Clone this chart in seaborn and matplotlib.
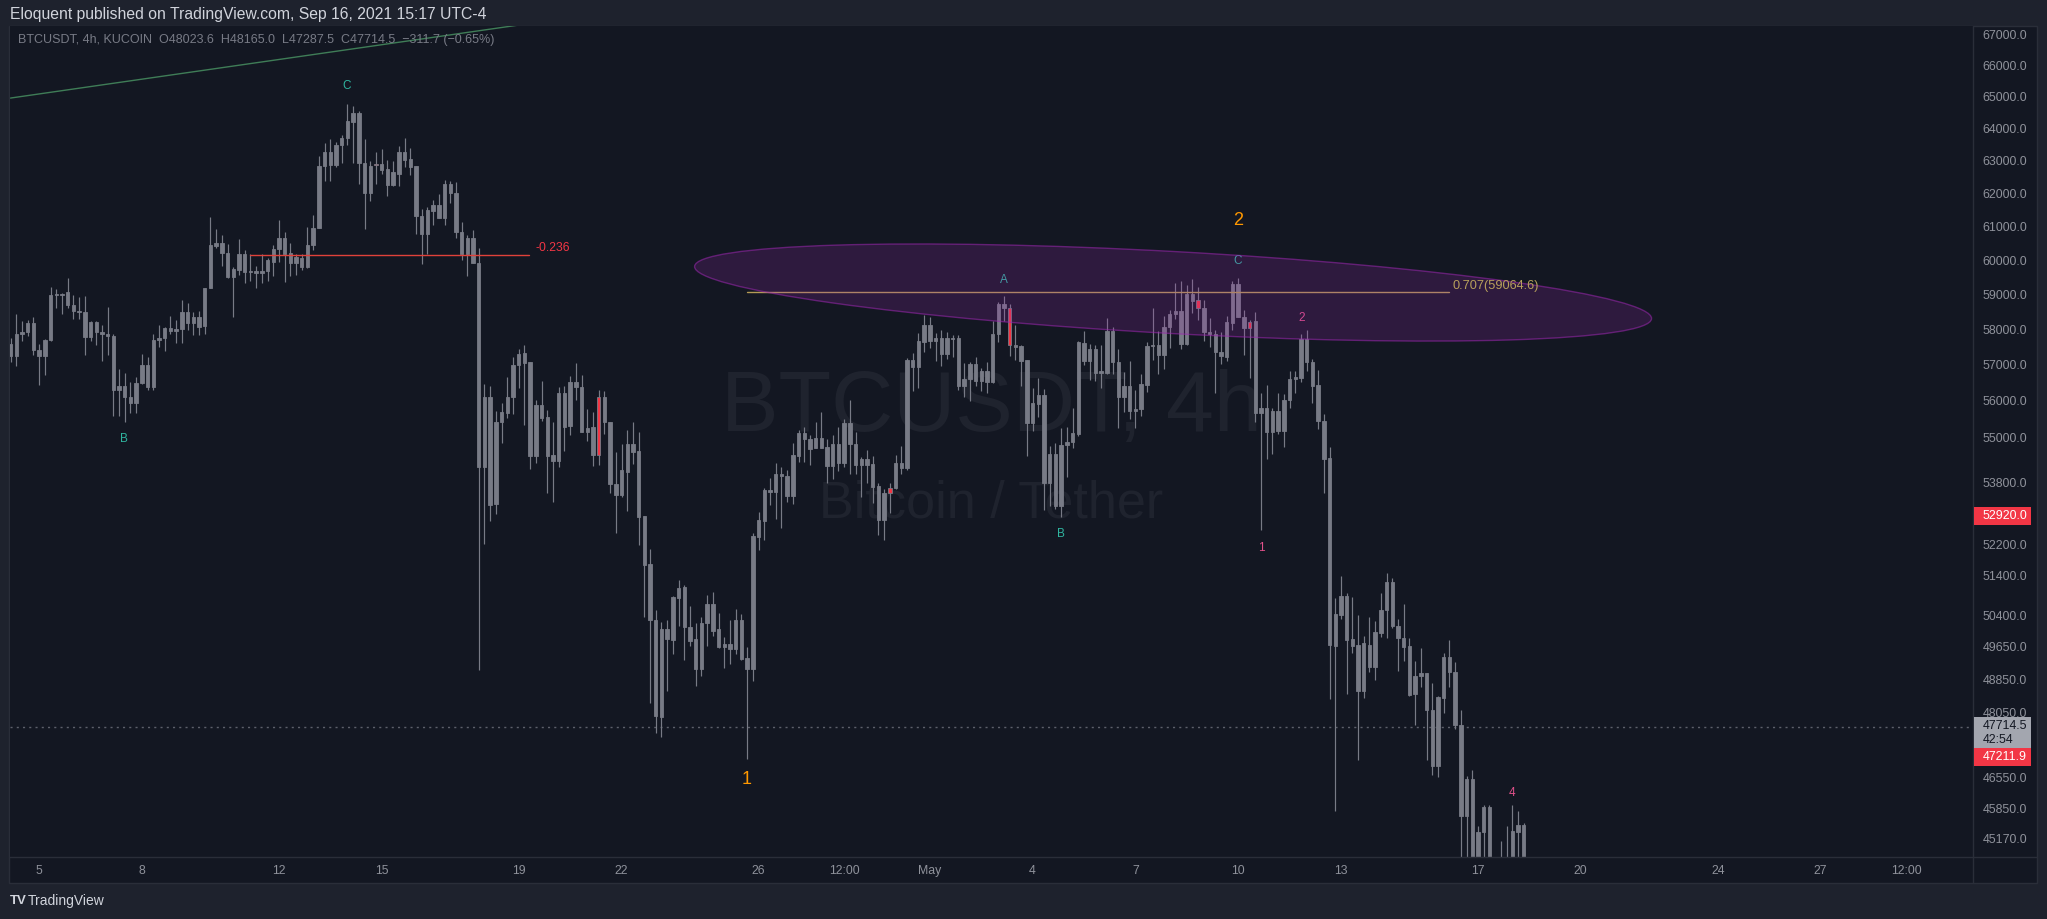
import numpy as np
import pandas as pd
import matplotlib
matplotlib.use("Agg")
import matplotlib.pyplot as plt
import matplotlib.dates as mdates
import seaborn as sns
from matplotlib.patches import Rectangle, Ellipse
from matplotlib.lines import Line2D
from matplotlib.ticker import NullLocator, FixedLocator
from matplotlib.transforms import IdentityTransform

# BTCUSDT 4h candles (KuCoin)
first_candle = "2021-04-04 04:00"
opens = [
    57580, 57235, 57865, 57925, 58180, 57420, 57235, 57705, 58970, 59000,
    59060, 58680, 58520, 58490, 57770, 58195, 57925, 57865, 57800, 56285,
    56415, 56100, 55935, 56490, 56985, 56370, 57705, 57735, 58020, 57960,
    58005, 58480, 58180, 58335, 58085, 59190, 60410, 60505, 60200, 59515,
    59700, 60190, 59640, 59670, 59610, 59670, 59955, 60315, 60650, 60200,
    59925, 60055, 59800, 60440, 60955, 62835, 63260, 62850, 63485, 63690,
    64195, 64470, 62935, 62015, 62850, 62885, 62750, 62250, 62600, 63275,
    63055, 62820, 61305, 60765, 61470, 61635, 61255, 62265, 62015, 60845,
    60165, 60650, 59925, 54200, 56110, 53235, 55425, 55665, 56100, 57000,
    57040, 57065, 54500, 55895, 55565, 54525, 54365, 56225, 55300, 56525,
    56385, 55150, 55270, 54525, 56115, 55430, 53770, 53465, 54080, 54835,
    54630, 52920, 51690, 50295, 47950, 50080, 49810, 50845, 51110, 50110,
    49825, 49090, 50205, 50680, 50070, 49640, 49705, 49570, 50290, 49370,
    49090, 52385, 52795, 53590, 53545, 54035, 53980, 53440, 54515, 55120,
    54960, 54725, 54985, 54740, 54225, 54820, 54315, 55395, 54820, 54250,
    54410, 54285, 53705, 52810, 53535, 53660, 54305, 54170, 57120, 56940,
    57630, 58130, 57650, 57755, 57305, 57745, 57755, 56405, 56590, 57030,
    56550, 56820, 56525, 57865, 58725, 58600, 57560, 57510, 57120, 55390,
    55915, 56160, 53785, 54565, 53185, 54805, 54875, 55100, 57610, 57090,
    57425, 56760, 56775, 57955, 57080, 56115, 56395, 55715, 55760, 56440,
    57515, 57565, 57265, 58050, 58430, 58515, 57580, 59005, 58830, 58595,
    57910, 57855, 57345, 57210, 58185, 59300, 58345, 58045, 58220, 55665,
    55805, 55135, 55720, 55175, 56030, 56605, 56640, 57720, 57080, 56420,
    55455, 54450, 49650, 50405, 50880, 49830, 49670, 48570, 49690, 49150,
    49975, 50550, 51230, 50145, 49860, 49645, 48490, 48930, 49010, 48130,
    46825, 48400, 49390, 49020, 47770, 45690, 46515, 44400, 45330, 45895,
    44100, 43500, 44300, 43900, 45330, 45490,
]
highs = [
    57735, 58445, 58240, 58255, 58335, 57580, 57720, 59200, 59155, 59045,
    59474, 58970, 58920, 58950, 58240, 58240, 58115, 58635, 57865, 56875,
    56770, 56520, 56645, 57295, 57220, 57865, 58115, 58055, 58365, 58270,
    58830, 58735, 58480, 58510, 59190, 61275, 60905, 60745, 60475, 59800,
    60635, 60285, 60175, 59830, 60175, 60070, 60440, 61180, 60825, 60505,
    60175, 60175, 60985, 61340, 63140, 63535, 63655, 63570, 63800, 64770,
    64700, 64560, 63655, 62970, 63260, 63360, 63020, 62970, 63465, 63690,
    63400, 62835, 61520, 61585, 61800, 61965, 62415, 62380, 62350, 61125,
    60740, 60880, 60345, 56460, 56415, 55725, 55935, 56645, 57210, 57440,
    57545, 57085, 56030, 56550, 55755, 55430, 56365, 56415, 56690, 57040,
    56715, 55785, 55700, 56305, 56280, 55430, 54605, 54820, 55195, 55430,
    55150, 52920, 52080, 50550, 50250, 50295, 50890, 51285, 51160, 50625,
    50215, 50355, 50905, 50995, 50460, 49880, 50290, 50560, 50435, 49625,
    52480, 53035, 53660, 53920, 54315, 54210, 54140, 54845, 55200, 55275,
    55065, 55410, 55690, 54950, 55065, 55275, 55490, 56020, 55155, 54480,
    54675, 54500, 53790, 53615, 53775, 54525, 54760, 57185, 57325, 57880,
    58415, 58360, 57880, 57975, 57930, 57845, 57845, 57055, 57075, 57210,
    56895, 57085, 58225, 58775, 58945, 58725, 58130, 57540, 57140, 56350,
    56620, 56325, 54760, 54860, 55255, 55290, 55805, 57675, 57955, 57590,
    57545, 57545, 58330, 58075, 57450, 56795, 57090, 56300, 56750, 57640,
    58610, 57955, 58385, 58545, 59340, 59390, 59275, 59450, 59205, 58840,
    58325, 57965, 57920, 58375, 59385, 59470, 58545, 58275, 58490, 56205,
    56420, 55805, 56205, 56175, 56835, 56835, 57855, 57965, 57165, 56860,
    55645, 54745, 50840, 51385, 50950, 50850, 50415, 49905, 50375, 50260,
    50955, 51475, 51325, 50310, 50675, 49860, 49290, 49595, 49010, 48765,
    48445, 49475, 49805, 49270, 48130, 46580, 46725, 45450, 45935, 45935,
    44500, 45120, 45450, 45935, 45795, 45515,
]
lows = [
    57080, 56955, 57660, 57800, 57265, 56445, 56720, 57660, 58600, 58445,
    58600, 58285, 58285, 57265, 57660, 57545, 57110, 57265, 55575, 55575,
    55410, 55665, 55665, 56460, 56285, 56285, 57500, 57390, 57865, 57610,
    57610, 57975, 57820, 57820, 57850, 59190, 60360, 59830, 59475, 58335,
    59560, 59320, 59395, 59190, 59320, 59395, 59530, 59955, 59365, 59530,
    59560, 59720, 59765, 60285, 60955, 62380, 62380, 62800, 62920, 63485,
    62920, 62265, 60905, 61765, 62265, 62585, 61915, 62215, 62215, 62800,
    62550, 60765, 59875, 60165, 61025, 61255, 61025, 61715, 60640, 60005,
    59540, 59925, 49070, 52205, 52805, 52975, 54840, 55535, 55635, 56340,
    55325, 54150, 54320, 55455, 53535, 53290, 54215, 54630, 55060, 56030,
    55150, 54900, 54235, 54260, 55095, 53535, 52490, 53420, 53050, 54285,
    52170, 50375, 48290, 47580, 47490, 48560, 49450, 50135, 49315, 49665,
    48695, 48930, 49665, 49905, 49610, 49120, 49210, 49465, 49305, 46970,
    48805, 52055, 52310, 53200, 52840, 52615, 53285, 53225, 54330, 54345,
    54250, 54725, 54725, 53790, 53880, 54095, 54200, 54035, 54035, 53420,
    53775, 53260, 52435, 52310, 53000, 53640, 54020, 54125, 56280, 56360,
    57350, 57475, 57095, 56960, 57145, 57210, 56295, 56115, 56000, 56405,
    56280, 56205, 56480, 57630, 58225, 57230, 57140, 56405, 54500, 55165,
    55555, 53085, 53185, 53100, 52885, 53935, 54715, 55040, 56980, 56570,
    56550, 56360, 56740, 56740, 55255, 55690, 55490, 55255, 55570, 56235,
    57125, 56750, 56870, 57470, 58285, 57425, 57565, 58450, 58265, 57655,
    57500, 56205, 57025, 57110, 57985, 58335, 57265, 56640, 55420, 52560,
    54420, 54555, 55080, 54735, 55805, 56205, 56530, 56835, 55935, 55240,
    53510, 48385, 45790, 50310, 48505, 49475, 46965, 48410, 49020, 48830,
    49880, 49860, 50090, 49040, 49300, 48445, 47770, 48655, 46955, 46620,
    46555, 48055, 48655, 47680, 44300, 44000, 43600, 43800, 44200, 43500,
    42500, 42800, 43000, 43500, 44200, 44000,
]
closes = [
    57235, 57865, 57925, 58180, 57420, 57235, 57690, 58970, 59000, 58970,
    58680, 58520, 58490, 57770, 58195, 57925, 57865, 57800, 56285, 56415,
    56100, 55935, 56490, 56985, 56370, 57705, 57735, 58020, 57960, 58005,
    58480, 58180, 58335, 58055, 59190, 60440, 60505, 60200, 59515, 59735,
    60190, 59640, 59670, 59610, 59670, 59990, 60315, 60650, 60175, 59925,
    60085, 59800, 60440, 60955, 62835, 63260, 62850, 63485, 63690, 64225,
    64470, 62920, 62000, 62835, 62885, 62720, 62250, 62635, 63275, 63020,
    62800, 61305, 60765, 61500, 61635, 61255, 62265, 62000, 60830, 60165,
    60650, 59925, 54200, 56110, 53220, 55425, 55680, 56100, 57000, 57290,
    57325, 54500, 55895, 55530, 54500, 54365, 56225, 55280, 56525, 56365,
    55150, 55260, 54525, 56115, 55410, 53755, 53465, 54125, 54820, 54615,
    52900, 51660, 50280, 47970, 50080, 49835, 50865, 51085, 50110, 49785,
    49090, 50215, 50680, 50030, 49625, 49705, 49570, 50290, 49345, 49105,
    52410, 52815, 53590, 53545, 54035, 53965, 53440, 54530, 55120, 54950,
    54690, 54985, 54725, 54225, 54820, 54315, 55395, 54815, 54250, 54410,
    54275, 53685, 52810, 53535, 53660, 54320, 54170, 57140, 56940, 57660,
    58130, 57650, 57755, 57305, 57745, 57715, 56405, 56595, 57030, 56550,
    56820, 56525, 57865, 58725, 58610, 57560, 57490, 57095, 55390, 55940,
    56160, 53785, 54565, 53185, 54805, 54875, 55130, 57625, 57090, 57425,
    56760, 56815, 57955, 57070, 56115, 56395, 55715, 55780, 56460, 57515,
    57555, 57265, 58075, 58430, 58515, 57580, 59005, 58810, 58595, 57910,
    57855, 57345, 57230, 58210, 59300, 58335, 58045, 58210, 55665, 55805,
    55135, 55720, 55175, 56030, 56605, 56665, 57720, 57080, 56400, 55455,
    54430, 49670, 50430, 50880, 49810, 49650, 48570, 49715, 49150, 49995,
    50550, 51230, 50145, 49860, 49625, 48470, 48930, 49010, 48110, 46825,
    48425, 49390, 49020, 47770, 45690, 46515, 44400, 45330, 45895, 44100,
    43500, 44300, 43900, 45350, 45490, 44300,
]
red_candles = [64, 103, 154, 175, 208, 217]

price_ticks = [67000, 66000, 65000, 64000, 63000, 62000, 61000, 60000, 59000,
               58000, 57000, 56000, 55000, 53800, 52200, 51400, 50400, 49650,
               48850, 48050, 46550, 45850, 45170]
date_ticks = ["2021-04-05 00:00", "2021-04-08 00:00", "2021-04-12 00:00",
              "2021-04-15 00:00", "2021-04-19 00:00", "2021-04-22 00:00",
              "2021-04-26 00:00", "2021-04-28 12:00", "2021-05-01 00:00",
              "2021-05-04 00:00", "2021-05-07 00:00", "2021-05-10 00:00",
              "2021-05-13 00:00", "2021-05-17 00:00", "2021-05-20 00:00",
              "2021-05-24 00:00", "2021-05-27 00:00", "2021-05-29 12:00"]
date_labels = ["5", "8", "12", "15", "19", "22", "26", "12:00", "May", "4",
               "7", "10", "13", "17", "20", "24", "27", "12:00"]

last_price = 47714.5
fib_neg = 60155        # -0.236 level
fib_707 = 59064.6      # 0.707 level
tag_red_top = 52920.0
tag_red_low = 47211.9

# wave labels: (text, time, price, colour, size)
wave_labels = [
    ("C", "2021-04-13 23:40", 65350, "#2fb5a0", 8.5),
    ("B", "2021-04-07 11:10", 54970, "#2fb5a0", 8.5),
    ("A", "2021-05-03 03:40", 59410, "#2fb5a0", 8.5),
    ("B", "2021-05-04 20:00", 52460, "#2fb5a0", 8.5),
    ("C", "2021-05-09 23:40", 59980, "#2fb5a0", 8.5),
    ("1", "2021-04-25 15:40", 46515, "#ff9800", 13),
    ("2", "2021-05-09 23:40", 61170, "#ff9800", 13),
    ("1", "2021-05-10 16:00", 52105, "#e0518a", 8.5),
    ("2", "2021-05-11 20:20", 58320, "#e0518a", 8.5),
    ("4", "2021-05-18 00:00", 46190, "#e0518a", 8.5),
]

W, H = 2047, 919
BG = "#131722"
FRAME = "#1e222d"
LINE = "#2a2e39"
CANDLE = "#787b86"
TXT = "#8f929b"


def tnum(s):
    return mdates.date2num(pd.Timestamp(s))


sns.set_theme(style="dark", rc={"axes.facecolor": BG, "figure.facecolor": FRAME})
plt.rcParams["font.family"] = ["Liberation Sans", "DejaVu Sans"]

fig = plt.figure(figsize=(W / 100, H / 100), dpi=100)
fig.patch.set_facecolor(FRAME)


def fx(px):
    return px / W


def fy(py):
    return 1 - py / H


# chart panel behind everything
fig.add_artist(Rectangle((fx(9), fy(883)), (2037 - 9) / W, (883 - 26) / H,
                         transform=fig.transFigure, facecolor=BG,
                         edgecolor=LINE, lw=1, zorder=0))

ax = fig.add_axes([fx(10), fy(857), (1973 - 10) / W, (857 - 26) / H])
ax.set_facecolor(BG)
for s in ax.spines.values():
    s.set_visible(False)
ax.grid(False)

times = pd.date_range(first_candle, periods=len(opens), freq="4h")
xs = mdates.date2num(times)
o = np.array(opens, float)
c = np.array(closes, float)
hi = np.array(highs, float)
lo = np.array(lows, float)

ax.set_yscale("log")
ax.set_xlim(tnum("2021-04-04 03:36"), tnum("2021-05-31 10:48"))
ax.set_ylim(44773, 67296)

# watermark
ax.text(0.5, 0.513, "BTCUSDT, 4h", transform=ax.transAxes, ha="center",
        va="baseline", fontsize=62, color="#787b86", alpha=0.12, zorder=1)
ax.text(0.5, 0.409, "Bitcoin / Tether", transform=ax.transAxes, ha="center",
        va="baseline", fontsize=37.5, color="#787b86", alpha=0.12, zorder=1)

# candles
face = [CANDLE] * len(opens)
for i in red_candles:
    face[i] = "#f23645"
body_lo = np.minimum(o, c)
body_hi = np.maximum(o, c)
ax.vlines(xs, lo, hi, color=CANDLE, lw=0.85, zorder=3)
ax.bar(xs, body_hi - body_lo, bottom=body_lo, width=0.1, color=face,
       edgecolor=CANDLE, linewidth=0.6, zorder=4)

# trend line, fib levels, last price
sns.lineplot(x=[tnum("2021-04-04 04:00"), tnum("2021-04-24 08:00")],
             y=[64960, 68200], ax=ax, color="#3f7d57", lw=1, zorder=5)
sns.lineplot(x=[tnum("2021-04-11 03:36"), tnum("2021-04-19 07:12")],
             y=[fib_neg, fib_neg], ax=ax, color="#e0413a", lw=1, zorder=5)
sns.lineplot(x=[tnum("2021-04-25 16:00"), tnum("2021-05-16 04:00")],
             y=[fib_707, fib_707], ax=ax, color="#b39a55", lw=1, zorder=5)
ax.axhline(last_price, color="#5d606b", lw=1, ls=(0, (1.5, 3)), zorder=2)

ax.text(tnum("2021-04-19 11:40"), 60350, "-0.236",
        color="#f23645", fontsize=8.8, ha="left", va="center", zorder=7)
ax.text(tnum("2021-05-16 06:00"), 59245,
        "0.707(59064.6)", color="#b8a05c", fontsize=9.2, ha="left",
        va="center", zorder=7)

for txt, t, p, col, size in wave_labels:
    ax.text(tnum(t), p, txt, color=col,
            fontsize=size, ha="center", va="center", zorder=5)

# ellipse drawn in screen space between its two tips
p_left = ax.transData.transform((tnum("2021-04-24 03:12"), 59812))
p_right = ax.transData.transform((tnum("2021-05-22 01:36"), 58300))
cen = (p_left + p_right) / 2
d = p_right - p_left
ell = Ellipse(cen, np.hypot(*d), 82, angle=np.degrees(np.arctan2(d[1], d[0])),
              transform=IdentityTransform(), facecolor=(156 / 255, 39 / 255, 176 / 255, 0.2),
              edgecolor=(156 / 255, 39 / 255, 176 / 255, 0.55), lw=1, zorder=6)
ax.add_patch(ell)

# axes ticks
ax.yaxis.tick_right()
ax.yaxis.set_major_locator(FixedLocator(price_ticks))
ax.yaxis.set_minor_locator(NullLocator())
ax.set_yticklabels([f"{v:.1f}" for v in price_ticks])
ax.tick_params(axis="y", length=0, pad=7, labelsize=8.9, labelcolor=TXT)
ax.set_xticks([tnum(s) for s in date_ticks])
ax.set_xticklabels(date_labels)
ax.xaxis.set_minor_locator(NullLocator())
ax.tick_params(axis="x", length=0, pad=6, labelsize=8.8, labelcolor=TXT)
ax.set_xlabel("")
ax.set_ylabel("")

# panel separators
fig.add_artist(Line2D([fx(1973), fx(1973)], [fy(26), fy(883)], color=LINE, lw=1,
                      transform=fig.transFigure))
fig.add_artist(Line2D([fx(9), fx(2037)], [fy(857), fy(857)], color=LINE, lw=1,
                      transform=fig.transFigure))


# price tags on the axis
def y_px(price):
    return H - ax.transData.transform((xs[0], price))[1]


def tag(top, height, face_col):
    fig.add_artist(Rectangle((fx(1974), fy(top + height)), 57 / W, height / H,
                             transform=fig.transFigure, facecolor=face_col,
                             edgecolor="none", zorder=3))


y_last = y_px(last_price)
tag(y_last - 10, 31, "#a3a6af")
fig.text(fx(1983), fy(y_last - 1), f"{last_price:.1f}", color="#131722",
         fontsize=8.9, va="center", ha="left", zorder=4)
fig.text(fx(1983), fy(y_last + 13), "42:54", color="#131722",
         fontsize=8.9, va="center", ha="left", zorder=4)
tag(y_last + 21, 18, "#f23645")
fig.text(fx(1983), fy(y_last + 30), f"{tag_red_low:.1f}", color="white",
         fontsize=8.9, va="center", ha="left", zorder=4)
y_r = y_px(tag_red_top)
tag(y_r - 9, 18, "#f23645")
fig.text(fx(1983), fy(y_r), f"{tag_red_top:.1f}", color="white",
         fontsize=8.9, va="center", ha="left", zorder=4)

# header / footer
fig.text(fx(10), fy(14.5), "Eloquent published on TradingView.com, Sep 16, 2021 15:17 UTC-4",
         color="#d1d4dc", fontsize=11.3, va="center", ha="left")
fig.text(fx(18), fy(40.5),
         "BTCUSDT, 4h, KUCOIN  O48023.6  H48165.0  L47287.5  C47714.5  \u2212311.7 (\u22120.65%)",
         color="#787b86", fontsize=9.0, va="center", ha="left", zorder=5)
fig.text(fx(10), fy(901), "TV", color="#d1d4dc", fontsize=9.5,
         fontweight="bold", va="center", ha="left")
fig.text(fx(28), fy(901), "TradingView", color="#d1d4dc", fontsize=10,
         va="center", ha="left")

fig.savefig("out.png", dpi=100, facecolor=FRAME)
